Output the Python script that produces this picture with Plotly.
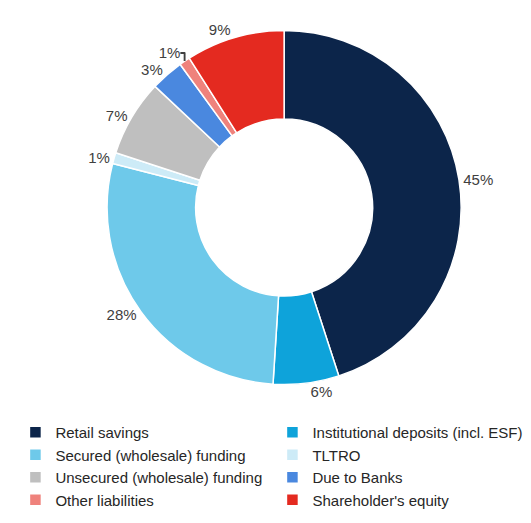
import plotly.graph_objects as go

labels = ["Retail savings", "Institutional deposits (incl. ESF)", "Secured (wholesale) funding",
          "TLTRO", "Unsecured (wholesale) funding", "Due to Banks", "Other liabilities",
          "Shareholder's equity"]
values = [45, 6, 28, 1, 7, 3, 1, 9]
colors = ["#0c254a", "#0ea3da", "#6ec9ea", "#cdebf7", "#bfbfbf", "#4a88df", "#ef827c", "#e42a20"]

fig = go.Figure()
fig.add_trace(go.Pie(
    labels=labels,
    values=values,
    hole=0.5,
    sort=False,
    direction="clockwise",
    rotation=0,
    marker=dict(colors=colors, line=dict(color="white", width=1.5)),
    texttemplate="%{value}%",
    textposition="outside",
    textfont=dict(size=15, color="#404040", family="Liberation Sans, Arial"),
    domain=dict(x=[0.152, 0.888], y=[0.28, 0.957]),
))

fig.update_layout(
    width=531, height=523,
    margin=dict(l=0, r=0, t=0, b=0),
    paper_bgcolor="white",
    font=dict(family="Liberation Sans, Arial", size=15, color="#262626"),
    showlegend=True,
    legend=dict(orientation="h", traceorder="normal", x=0.014, y=0.22,
                xanchor="left", yanchor="top", itemwidth=30,
                entrywidth=0.484, entrywidthmode="fraction",
                font=dict(size=15, color="#262626")),
)
fig.write_html("out.html")
